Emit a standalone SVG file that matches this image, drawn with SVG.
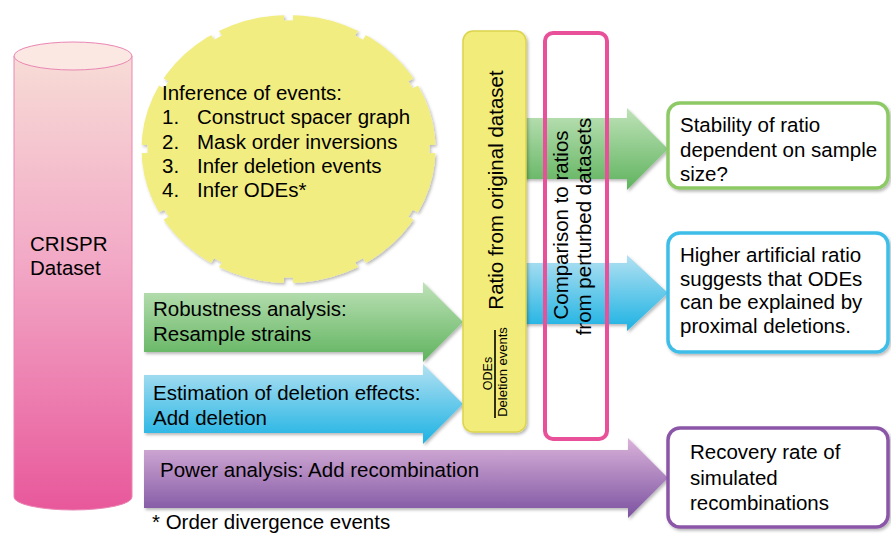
<svg xmlns="http://www.w3.org/2000/svg" width="891" height="535" viewBox="0 0 891 535">
<style>
.t{font-family:"Liberation Sans",Arial,sans-serif;font-size:20.5px;fill:#000}
.box{fill:#fff;stroke-width:3.5}
</style>
<defs>
<linearGradient id="gPink" x1="0" y1="0" x2="0" y2="1"><stop offset="0" stop-color="#f7dcd6"/><stop offset="0.45" stop-color="#f2a9c6"/><stop offset="1" stop-color="#e8589b"/></linearGradient>
<linearGradient id="gGreen" x1="0" y1="0" x2="0" y2="1"><stop offset="0" stop-color="#bfe2b8"/><stop offset="1" stop-color="#5fb35e"/></linearGradient>
<linearGradient id="gBlue" x1="0" y1="0" x2="0" y2="1"><stop offset="0" stop-color="#b3e1f2"/><stop offset="1" stop-color="#1cb2e3"/></linearGradient>
<linearGradient id="gPurple" x1="0" y1="0" x2="0" y2="1"><stop offset="0" stop-color="#dbb3da"/><stop offset="1" stop-color="#7b52a0"/></linearGradient>
<filter id="sh" x="-10%" y="-10%" width="125%" height="135%"><feDropShadow dx="1.5" dy="2" stdDeviation="1.5" flood-color="#000" flood-opacity="0.28"/></filter>
<mask id="gearMask" maskUnits="userSpaceOnUse" x="-160" y="-160" width="320" height="320">
<circle r="150" fill="#fff"/>
<g fill="#000">
<rect x="141" y="-4.5" width="10" height="9" transform="rotate(0)"/>
<rect x="141" y="-4.5" width="10" height="9" transform="rotate(30)"/>
<rect x="141" y="-4.5" width="10" height="9" transform="rotate(60)"/>
<rect x="141" y="-4.5" width="10" height="9" transform="rotate(90)"/>
<rect x="141" y="-4.5" width="10" height="9" transform="rotate(120)"/>
<rect x="141" y="-4.5" width="10" height="9" transform="rotate(150)"/>
<rect x="141" y="-4.5" width="10" height="9" transform="rotate(180)"/>
<rect x="141" y="-4.5" width="10" height="9" transform="rotate(210)"/>
<rect x="141" y="-4.5" width="10" height="9" transform="rotate(240)"/>
<rect x="141" y="-4.5" width="10" height="9" transform="rotate(270)"/>
<rect x="141" y="-4.5" width="10" height="9" transform="rotate(300)"/>
<rect x="141" y="-4.5" width="10" height="9" transform="rotate(330)"/>
</g>
</mask>
</defs>
<rect width="891" height="535" fill="#fff"/>

<g id="crispr-dataset">
<path d="M14,56 V497 A59,13 0 0 0 132,497 V56 Z" fill="url(#gPink)" stroke="#ea86b4" stroke-width="1"/>
<ellipse cx="73" cy="56" rx="59" ry="14" fill="#fbe8e3" stroke="#ea86b4" stroke-width="1"/>
<text class="t" x="30" y="251">CRISPR</text>
<text class="t" x="30" y="275">Dataset</text>
</g>

<g id="inference">
<g transform="translate(288.5 149) scale(1 0.912)" filter="url(#sh)">
<circle r="147" fill="#f2ed80" mask="url(#gearMask)"/>
</g>
<text class="t" x="162" y="100">Inference of events:</text>
<text class="t" x="162" y="124">1.</text><text class="t" x="197" y="124">Construct spacer graph</text>
<text class="t" x="162" y="148.5">2.</text><text class="t" x="197" y="148.5">Mask order inversions</text>
<text class="t" x="162" y="173">3.</text><text class="t" x="197" y="173">Infer deletion events</text>
<text class="t" x="162" y="197">4.</text><text class="t" x="197" y="197">Infer ODEs*</text>
</g>

<g id="connectors">
<path d="M515,118 H627 V108 L668,149 L627,190 V179 H515 Z" fill="url(#gGreen)" filter="url(#sh)"/>
<path d="M515,263 H627 V255 L668,293 L627,331 V324 H515 Z" fill="url(#gBlue)" filter="url(#sh)"/>
</g>

<g id="robustness">
<path d="M144,293 H423 V282 L463,322 L423,362 V352 H144 Z" fill="url(#gGreen)" filter="url(#sh)"/>
<text class="t" x="153" y="316">Robustness analysis:</text>
<text class="t" x="153" y="341">Resample strains</text>
</g>

<g id="estimation">
<path d="M144,375 H423 V364 L463,404 L423,444 V433 H144 Z" fill="url(#gBlue)" filter="url(#sh)"/>
<text class="t" x="153" y="400">Estimation of deletion effects:</text>
<text class="t" x="153" y="425">Add deletion</text>
</g>

<g id="power">
<path d="M144,450 H628 V438 L668,478 L628,518 V508 H144 Z" fill="url(#gPurple)" filter="url(#sh)"/>
<text class="t" x="160" y="477">Power analysis: Add recombination</text>
</g>

<g id="ratio">
<rect x="463" y="31" width="63" height="401" rx="10" fill="#f2ec7a" stroke="#dcd44c" stroke-width="1.5" filter="url(#sh)"/>
<text class="t" text-anchor="middle" transform="translate(503 190) rotate(-90)">Ratio from original dataset</text>
<text class="t" style="font-size:12.5px" text-anchor="middle" transform="translate(492 373.5) rotate(-90)">ODEs</text>
<line x1="495" y1="330" x2="495" y2="418" stroke="#000" stroke-width="1.6"/>
<text class="t" style="font-size:13px" text-anchor="middle" transform="translate(507 372) rotate(-90)">Deletion events</text>
</g>

<g id="comparison">
<rect x="545" y="33" width="62" height="406" rx="8" fill="none" stroke="#e8509a" stroke-width="4"/>
<text class="t" text-anchor="middle" transform="translate(568 225) rotate(-90)">Comparison to ratios</text>
<text class="t" text-anchor="middle" transform="translate(591 226.5) rotate(-90)">from perturbed datasets</text>
</g>

<g id="stability">
<rect class="box" x="668" y="103" width="220" height="85" rx="12" stroke="#8dc965" filter="url(#sh)"/>
<text class="t" x="680" y="132">Stability of ratio</text>
<text class="t" x="680" y="156.5">dependent on sample</text>
<text class="t" x="680" y="181">size?</text>
</g>

<g id="higher-ratio">
<rect class="box" x="668" y="233" width="220" height="119" rx="12" stroke="#3cbde8" filter="url(#sh)"/>
<text class="t" x="680" y="262">Higher artificial ratio</text>
<text class="t" x="680" y="285.5">suggests that ODEs</text>
<text class="t" x="680" y="309">can be explained by</text>
<text class="t" x="680" y="333">proximal deletions.</text>
</g>

<g id="recovery">
<rect class="box" x="668" y="428" width="220" height="99" rx="12" stroke="#8b57a7" filter="url(#sh)"/>
<text class="t" x="690" y="459">Recovery rate of</text>
<text class="t" x="690" y="485">simulated</text>
<text class="t" x="690" y="510">recombinations</text>
</g>

<g id="footnote">
<text class="t" x="152" y="529">* Order divergence events</text>
</g>
</svg>
